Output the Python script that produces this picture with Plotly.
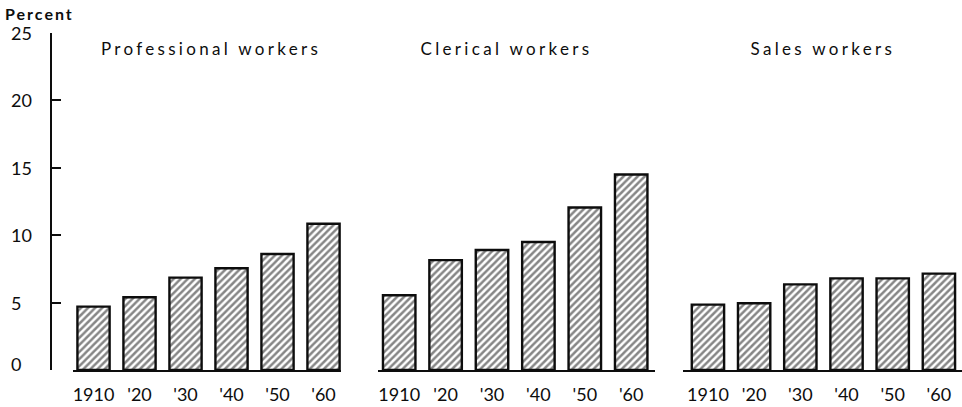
import plotly.graph_objects as go

# ---- data ----
years = ["1910", "'20", "'30", "'40", "'50", "'60"]
professional = [4.7, 5.4, 6.85, 7.55, 8.6, 10.85]
clerical = [5.55, 8.15, 8.9, 9.5, 12.05, 14.5]
sales = [4.85, 4.95, 6.35, 6.8, 6.8, 7.15]
panel_titles = ["Professional workers", "Clerical workers", "Sales workers"]
y_label = "Percent"
y_ticks = [0, 5, 10, 15, 20, 25]

W, H = 962, 407
INK = "#0d0d0d"
FONT = "Lato"

fig = go.Figure()

series = [professional, clerical, sales]
xaxes = ["x", "x2", "x3"]
for vals, xa in zip(series, xaxes):
    fig.add_trace(go.Bar(
        x=years, y=vals, xaxis=xa, yaxis="y",
        width=0.7,
        marker=dict(
            color="white",
            line=dict(color=INK, width=2.4),
            pattern=dict(shape="/", fgcolor=INK, bgcolor="white",
                         size=5, solidity=0.5),
        ),
        showlegend=False, hoverinfo="skip",
    ))

def px_x(p):
    return p / W

def px_y(p):
    return 1 - p / H

y_dom = [px_y(370), px_y(33)]

xcommon = dict(
    type="category", anchor="y", showline=True, linewidth=2, linecolor=INK,
    ticks="", showgrid=False, zeroline=False, fixedrange=True,
    tickfont=dict(family=FONT, size=18, color=INK),
    ticklabelstandoff=7, automargin=False,
)

fig.update_layout(
    width=W, height=H,
    margin=dict(l=0, r=0, t=0, b=0),
    paper_bgcolor="white", plot_bgcolor="rgba(0,0,0,0)",
    xaxis=dict(domain=[px_x(73), px_x(341)], range=[-0.446, 5.38], **xcommon),
    xaxis2=dict(domain=[px_x(378), px_x(655)], range=[-0.457, 5.513], **xcommon),
    xaxis3=dict(domain=[px_x(683), px_x(962)], range=[-0.54, 5.5], **xcommon),
    yaxis=dict(
        domain=y_dom, range=[0, 25], anchor="free", position=px_x(51),
        tickvals=y_ticks, showticklabels=False,
        ticks="inside", ticklen=9, tickwidth=2, tickcolor=INK,
        showline=True, linewidth=2, linecolor=INK,
        showgrid=False, zeroline=False, fixedrange=True,
        automargin=False,
    ),
)

annotations = [
    dict(text=y_label, x=px_x(10), y=px_y(14), xanchor="left", yanchor="middle",
         xref="paper", yref="paper",
         font=dict(family=FONT, size=16, color=INK, weight="bold")),
]
# left-aligned y tick labels, placed on the y scale
for t in y_ticks:
    annotations.append(dict(text=str(t), x=px_x(9), xref="paper", y=t, yref="y",
                            xanchor="left", yanchor="middle",
                            yshift=(6 if t == 0 else 0),
                            font=dict(family=FONT, size=18, color=INK)))
title_centers = [211, 507, 823]
for t, cx in zip(panel_titles, title_centers):
    annotations.append(dict(text=t, x=px_x(cx), y=px_y(49), xanchor="center",
                            yanchor="middle", xref="paper", yref="paper",
                            font=dict(family=FONT, size=17, color=INK)))
for a in annotations:
    a.update(showarrow=False)
fig.update_layout(annotations=annotations)

post = """
document.body.style.margin = '0';
document.body.style.padding = '0';
var gd = document.querySelectorAll('.annotation');
gd.forEach(function(g, i){
  var t = g.querySelector('.annotation-text');
  if (!t) return;
  if (i === 0) { t.style.letterSpacing = '2px'; }
  else if (i >= 7) { t.style.letterSpacing = '3.3px'; }
});
"""

fig.write_html("out.html", post_script=post, config={"displayModeBar": False})
